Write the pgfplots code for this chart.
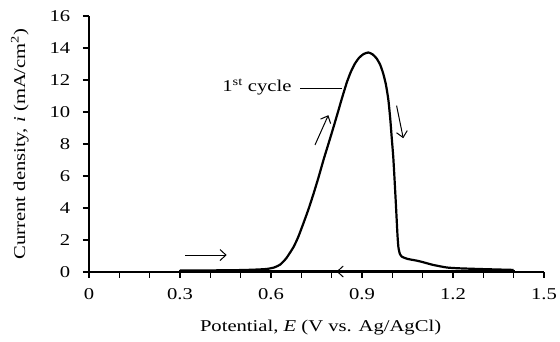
\documentclass[border=0pt]{standalone}
\usepackage{fontspec}
\setmainfont{Liberation Serif}[FakeStretch=1.25]
\usepackage{pgfplots}
\pgfplotsset{compat=1.18}
\usetikzlibrary{arrows.meta}
\begin{document}
\fontsize{16.5pt}{19pt}\selectfont
\begin{tikzpicture}
\begin{axis}[
  scale only axis, width=455pt, height=256pt,
  xmin=0, xmax=1.5, ymin=0, ymax=16,
  axis lines*=left,
  axis line style={line width=1.6pt},
  xtick={0,0.3,0.6,0.9,1.2,1.5},
  xticklabels={0,0.3,0.6,0.9,1.2,1.5},
  ytick={0,2,...,16},
  yticklabels={0,2,4,6,8,10,12,14,16},
  minor x tick num=2,
  tick align=outside,
  major tick length=6pt, minor tick length=6pt,
  tick style={line width=1.2pt, black},
  /pgf/number format/assume math mode=true,
  xticklabel style={yshift=-5pt},
  yticklabel style={xshift=-7pt},
  xlabel={Potential, \textit{E} (V vs. Ag/AgCl)},
  ylabel={Current density, \textit{i} (mA/cm\textsuperscript{2})},
  xlabel style={at={(axis description cs:0.509,-0.218)}, anchor=center},
  ylabel style={at={(axis description cs:-0.152,0.5)}, anchor=center},
  clip=false,
]
\addplot[black, line width=2.2pt, smooth, tension=0.35] coordinates {
(0.30,0.10) (0.40,0.10) (0.50,0.12) (0.55,0.15) (0.586,0.19) (0.61,0.28)
(0.63,0.46) (0.65,0.85) (0.674,1.55) (0.69,2.2) (0.707,3.05) (0.725,4.0)
(0.742,5.0) (0.758,6.0) (0.773,7.0) (0.79,8.05) (0.806,9.05) (0.82,9.95)
(0.833,10.8) (0.85,11.85) (0.863,12.5) (0.876,13.0) (0.89,13.38) (0.905,13.62)
(0.921,13.72) (0.935,13.6) (0.948,13.35) (0.96,12.95) (0.970,12.4) (0.979,11.7)
(0.987,10.75) (0.993,9.6) (0.998,8.4) (1.003,7.2) (1.007,5.9) (1.011,4.5)
(1.014,3.4) (1.017,2.3) (1.020,1.55) (1.025,1.12) (1.031,0.96) (1.05,0.82)
(1.08,0.71) (1.10,0.62) (1.135,0.44) (1.18,0.28) (1.22,0.23) (1.30,0.18) (1.40,0.13)
};
\addplot[black, line width=2.2pt] coordinates {(1.40,0.13) (1.40,0.03) (0.30,0.03) (0.30,0.10)};
% annotations
\draw[line width=1pt, -{Straight Barb[length=6pt,width=11pt]}] (axis cs:0.317,1.06) -- (axis cs:0.454,1.06);
\draw[line width=1pt, -{Straight Barb[length=6pt,width=11pt]}] (axis cs:0.745,7.94) -- (axis cs:0.789,9.8);
\draw[line width=1pt, -{Straight Barb[length=6pt,width=11pt]}] (axis cs:1.014,10.4) -- (axis cs:1.036,8.36);
\draw[line width=1pt, -{Straight Barb[length=6pt,width=11pt]}] (axis cs:0.87,0.03) -- (axis cs:0.816,0.03);
\draw[line width=1.2pt] (axis cs:0.696,11.48) -- (axis cs:0.834,11.48);
\node[anchor=east, inner sep=0pt] at (axis cs:0.668,11.55) {1\textsuperscript{st} cycle};
\end{axis}
\pgfresetboundingbox
\path[use as bounding box] (-89pt,-70pt) rectangle (471pt,272pt);
\end{tikzpicture}
\end{document}
